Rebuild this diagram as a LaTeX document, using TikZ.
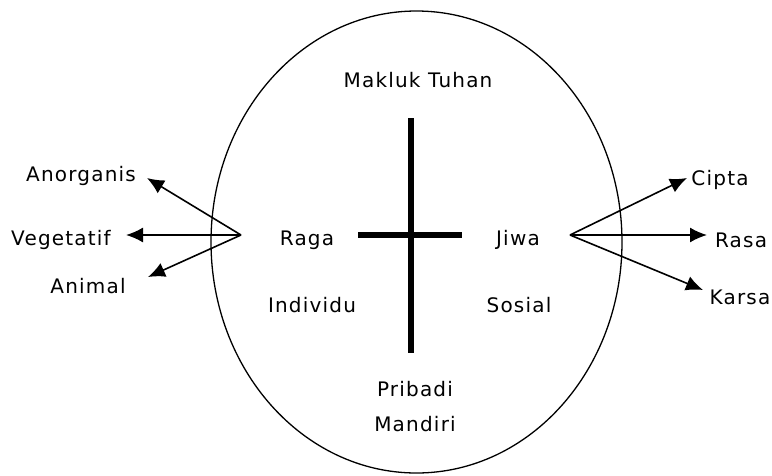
\documentclass[tikz,border=0pt]{standalone}
\usepackage{fontspec}
\usepackage{tikz}
\usetikzlibrary{arrows.meta}
\newfontfamily\lblfont[LetterSpace=6]{DejaVu Sans}

\begin{document}
\begin{tikzpicture}[x=1pt,y=-1pt,
  lbl/.style={inner sep=0pt,align=center,
    font=\lblfont\fontsize{20}{35}\selectfont},
  arr/.style={-{Latex[length=17pt,width=15pt]},line width=1.6pt},
  crossbar/.style={line width=5.5pt}]

  \useasboundingbox (0,0) rectangle (772,475);

  % the whole person
  \draw[line width=1.3pt] (416.5,242) ellipse [x radius=205.5pt,y radius=231pt];

  \node[lbl] (tuhan) at (418,80) {Makluk Tuhan};
  \node[lbl] (raga) at (307,240) {Raga};
  \node[lbl] (jiwa) at (518,240) {Jiwa};
  \node[lbl] (individu) at (312,305) {Individu};
  \node[lbl] (sosial) at (519,305) {Sosial};
  \node[lbl] (pribadi) at (415,407) {Pribadi\\Mandiri};

  \node[lbl] (anorganis) at (81,176) {Anorganis};
  \node[lbl] (vegetatif) at (61,240) {Vegetatif};
  \node[lbl] (animal) at (88,286) {Animal};
  \node[lbl] (cipta) at (720,180) {Cipta};
  \node[lbl] (rasa) at (741,240) {Rasa};
  \node[lbl] (karsa) at (740,297) {Karsa};

  % cross
  \coordinate (ctop) at (411,118);
  \coordinate (cbot) at (411,353);
  \coordinate (cleft) at (358,235);
  \coordinate (cright) at (462,235);
  \draw[crossbar] (ctop) -- (cbot);
  \draw[crossbar] (cleft) -- (cright);

  % arrow roots and tips
  \coordinate (ragaroot) at (241,235);
  \coordinate (jiwaroot) at (570,235);
  \coordinate (anorganistip) at (147,178);
  \coordinate (vegetatiftip) at (126,235);
  \coordinate (animaltip) at (148,277);
  \coordinate (ciptatip) at (687,178);
  \coordinate (rasatip) at (707,235);
  \coordinate (karsatip) at (703,290);

  \draw[arr] (ragaroot) -- (anorganistip);
  \draw[arr] (ragaroot) -- (vegetatiftip);
  \draw[arr] (ragaroot) -- (animaltip);
  \draw[arr] (jiwaroot) -- (ciptatip);
  \draw[arr] (jiwaroot) -- (rasatip);
  \draw[arr] (jiwaroot) -- (karsatip);
\end{tikzpicture}
\end{document}
